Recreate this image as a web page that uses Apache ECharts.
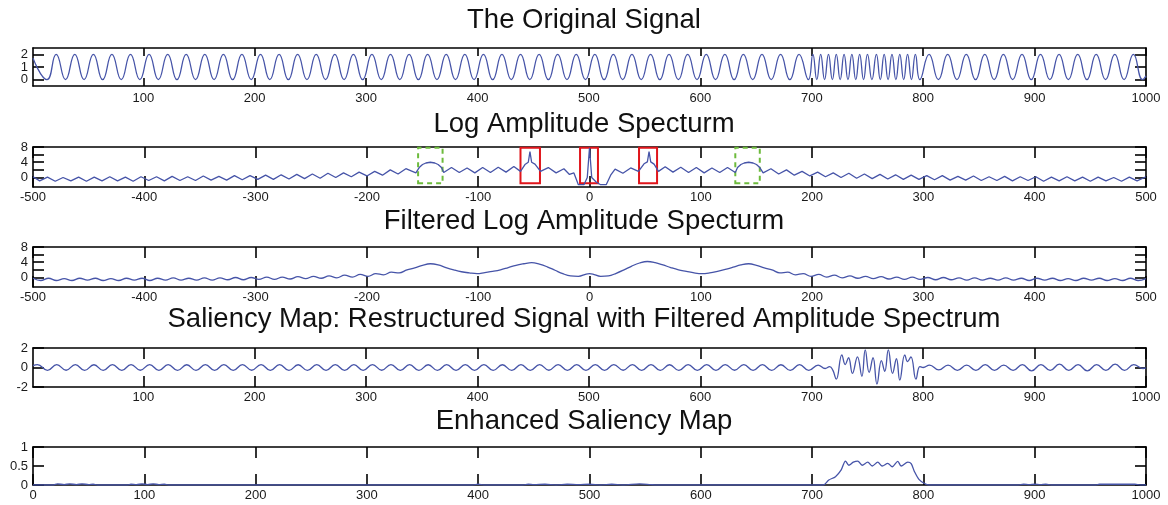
<!DOCTYPE html>
<html><head><meta charset="utf-8">
<script src="https://cdn.jsdelivr.net/npm/echarts@6/dist/echarts.min.js"></script>
<style>html,body{margin:0;padding:0;background:#fff}#c{width:1168px;height:505px}</style>
</head><body><div id="c"></div>
<script>
// ---------- titles & ticks ----------
const panelTitles = [
  'The Original Signal',
  'Log Amplitude Specturm',
  'Filtered Log Amplitude Specturm',
  'Saliency Map: Restructured Signal with Filtered Amplitude Spectrum',
  'Enhanced Saliency Map'
];
const signalTicks = [100,200,300,400,500,600,700,800,900,1000];
const spectrumTicks = [-500,-400,-300,-200,-100,0,100,200,300,400,500];
const enhancedTicks = [0,100,200,300,400,500,600,700,800,900,1000];
const signalYTicks = [0,1,2];
const spectrumYTicks = [0,2,4,6,8];
const spectrumYLabels = [0,4,8];
const saliencyYTicks = [-2,0,2];
const enhancedYTicks = [0,0.5,1];

// ---------- data ----------
const originalSignal = [
 [1,1.7],[13.5,0],[21.8,2],[30.2,0],[38.5,2],[46.8,0],[55.2,2],[63.5,0],[71.8,2],[80.2,0],[88.5,2],[96.9,0],
 [105.2,2],[113.5,0],[121.9,2],[130.2,0],[138.5,2],[146.9,0],[155.2,2],[163.5,0],[171.9,2],[180.2,0],[188.5,2],[196.9,0],
 [205.2,2],[213.5,0],[221.9,2],[230.2,0],[238.5,2],[246.9,0],[255.2,2],[263.6,0],[271.9,2],[280.2,0],[288.6,2],[296.9,0],
 [305.2,2],[313.6,0],[321.9,2],[330.2,0],[338.6,2],[346.9,0],[355.2,2],[363.6,0],[371.9,2],[380.2,0],[388.6,2],[396.9,0],
 [405.3,2],[413.6,0],[421.9,2],[430.3,0],[438.6,2],[446.9,0],[455.3,2],[463.6,0],[471.9,2],[480.3,0],[488.6,2],[496.9,0],
 [505.3,2],[513.6,0],[521.9,2],[530.3,0],[538.6,2],[546.9,0],[555.3,2],[563.6,0],[571.9,2],[580.3,0],[588.6,2],[597,0],
 [605.3,2],[613.6,0],[622,2],[630.3,0],[638.6,2],[647,0],[655.3,2],[663.6,0],[672,2],[680.3,0],[688.6,2],[697,0],
 [701,2],[704.5,0],[708,2],[711.5,0],[715,2],[718.5,0],[722,2],[725.5,0],[729,2],[732.5,0],[736,2],[739.5,0],
 [743,2],[746.5,0],[750,2],[754,0],[758,2],[761.5,0],[765,2],[768.5,0],[772,2],[775.5,0],[779,2],[782.5,0],
 [786,2],[789.5,0],[793,2],[797,0],
 [805.3,2],[813.7,0],[822,2],[830.3,0],[838.7,2],[847,0],[855.3,2],[863.7,0],[872,2],[880.3,0],[888.7,2],[897,0],
 [905.3,2],[913.7,0],[922,2],[930.3,0],[938.7,2],[947,0],[955.3,2],[963.7,0],[972,2],[980.3,0],[988.7,2],[997,0],[1000,0.3]
];

const logSpectrum = [
 [-500,0.2],[-494,-0.9],[-487,0.1],[-480,-1.0],[-473,0.0],[-466,-0.9],[-459,0.1],[-452,-1.0],[-445,0.1],[-438,-0.9],
 [-431,0.2],[-424,-0.9],[-417,0.1],[-410,-1.0],[-403,0.2],[-396,-0.8],[-389,0.2],[-382,-0.9],[-375,0.3],[-368,-0.8],
 [-361,0.2],[-354,-0.8],[-347,0.4],[-340,-0.7],[-333,0.3],[-326,-0.7],[-319,0.5],[-312,-0.6],[-305,0.5],[-298,-0.5],
 [-291,0.6],[-284,-0.5],[-277,0.7],[-270,-0.4],[-263,0.8],[-256,-0.3],[-249,0.9],[-242,-0.2],[-235,1.1],[-228,0.0],
 [-221,1.2],[-214,0.2],[-207,1.4],[-200,0.4],[-193,1.6],[-186,0.6],[-179,2.0],[-172,0.9],[-165,2.3],[-156,1.2],
 [-153,2.6],[-150,3.4],[-147,3.8],[-143,4.0],[-139,3.8],[-136,3.4],[-133,2.6],[-131,1.3],
 [-124,2.6],[-117,1.3],[-110,2.5],[-103,1.2],[-96,2.6],[-89,1.3],[-82,2.7],[-75,1.4],[-68,2.9],[-62,1.6],
 [-58,3.4],[-55,4.0],[-53.5,6.8],[-52,4.0],[-49,3.5],[-44,1.6],[-37,2.6],[-30,1.2],[-23,2.3],[-18,0.8],[-14,1.2],
 [-10,-1.9],[-5,-1.9],[-2,0.0],[0,7.8],[2,0.0],[6,-1.2],[10,-1.9],[15,-1.9],[19,0.6],
 [23,2.2],[30,1.1],[37,2.5],[44,1.6],[49,3.6],[52,4.1],[53.5,6.8],[55,4.1],[58,3.5],[62,1.6],
 [68,2.8],[75,1.4],[82,2.7],[89,1.3],[96,2.6],[103,1.2],[110,2.5],[117,1.3],[124,2.6],[131,1.3],
 [133,2.6],[136,3.4],[139,3.8],[143,4.0],[147,3.8],[150,3.4],[153,2.6],[156,1.2],
 [163,2.3],[170,0.9],[177,2.0],[184,0.6],[191,1.6],[198,0.4],[205,1.4],[212,0.2],[219,1.2],[226,0.0],
 [233,1.1],[240,-0.2],[247,0.9],[254,-0.3],[261,0.8],[268,-0.4],[275,0.7],[282,-0.5],[289,0.6],[296,-0.5],
 [303,0.5],[310,-0.6],[317,0.5],[324,-0.7],[331,0.3],[338,-0.7],[345,0.4],[352,-0.8],[359,0.2],[366,-0.8],
 [373,0.3],[380,-0.9],[387,0.2],[394,-0.8],[401,0.2],[408,-1.0],[415,0.1],[422,-0.9],[429,0.2],[436,-0.9],
 [443,0.1],[450,-1.0],[457,0.1],[464,-0.9],[471,0.0],[478,-1.0],[485,0.1],[492,-0.9],[500,0.2]
];

const filteredSpectrum = [
 [-500,-0.2],[-493,-0.8],[-486,-0.2],[-479,-0.8],[-472,-0.3],[-465,-0.8],[-458,-0.2],[-451,-0.7],[-444,-0.2],[-437,-0.8],
 [-430,-0.3],[-423,-0.8],[-416,-0.2],[-409,-0.7],[-402,-0.2],[-395,-0.8],[-388,-0.2],[-381,-0.7],[-374,-0.1],[-367,-0.7],
 [-360,-0.2],[-353,-0.7],[-346,-0.1],[-339,-0.7],[-332,-0.1],[-325,-0.6],[-318,0.0],[-311,-0.6],[-304,0.0],[-297,-0.5],
 [-290,0.1],[-283,-0.5],[-276,0.1],[-269,-0.4],[-262,0.2],[-255,-0.3],[-248,0.3],[-241,-0.2],[-234,0.4],[-227,-0.1],
 [-220,0.6],[-213,0.1],[-206,0.8],[-199,0.3],[-192,1.0],[-185,0.7],[-178,1.4],[-171,1.2],[-164,2.0],[-157,2.5],
 [-150,3.2],[-143,3.6],[-136,3.3],[-129,2.6],[-122,2.0],[-115,1.5],[-108,1.2],[-101,1.0],[-94,1.3],[-87,1.6],
 [-80,2.0],[-73,2.6],[-66,3.2],[-59,3.6],[-52,3.9],[-45,3.5],[-38,2.8],[-31,1.9],[-24,1.0],[-17,0.4],
 [-10,0.3],[-3,0.9],[0,1.0],[3,0.9],[10,0.3],[17,0.4],[24,1.1],[31,2.0],[38,3.0],[45,3.8],
 [52,4.2],[59,3.9],[66,3.3],[73,2.6],[80,2.0],[87,1.6],[94,1.2],[101,1.0],[108,1.2],[115,1.6],
 [122,2.1],[129,2.7],[136,3.3],[143,3.6],[150,3.2],[157,2.5],[164,2.0],[171,1.2],[178,1.4],[185,0.7],
 [192,1.0],[199,0.3],[206,0.8],[213,0.1],[220,0.6],[227,-0.1],[234,0.4],[241,-0.2],[248,0.3],[255,-0.3],
 [262,0.2],[269,-0.4],[276,0.1],[283,-0.5],[290,0.1],[297,-0.5],[304,0.0],[311,-0.6],[318,0.0],[325,-0.6],
 [332,-0.1],[339,-0.7],[346,-0.1],[353,-0.7],[360,-0.2],[367,-0.7],[374,-0.1],[381,-0.7],[388,-0.2],[395,-0.8],
 [402,-0.2],[409,-0.7],[416,-0.2],[423,-0.8],[430,-0.3],[437,-0.8],[444,-0.2],[451,-0.7],[458,-0.2],[465,-0.8],
 [472,-0.3],[479,-0.8],[486,-0.2],[493,-0.8],[500,-0.3]
];

const saliencyMap = [
 [1,0.2],[5,0.3],[14,-0.3],[22.3,0.3],[30.7,-0.28],[39,0.3],[47.3,-0.3],[55.7,0.28],[64,-0.3],[72.3,0.3],[80.7,-0.3],[89,0.3],
 [97.3,-0.28],[105.7,0.3],[114,-0.3],[122.3,0.3],[130.7,-0.3],[139,0.28],[147.3,-0.3],[155.7,0.3],[164,-0.3],[172.3,0.3],
 [180.7,-0.3],[189,0.3],[197.3,-0.28],[205.7,0.3],[214,-0.3],[222.3,0.3],[230.7,-0.3],[239,0.28],[247.3,-0.3],[255.7,0.3],
 [264,-0.3],[272.3,0.3],[280.7,-0.3],[289,0.3],[297.3,-0.3],[305.7,0.3],[314,-0.28],[322.3,0.3],[330.7,-0.3],[339,0.3],
 [347.3,-0.3],[355.7,0.28],[364,-0.3],[372.3,0.3],[380.7,-0.3],[389,0.3],[397.3,-0.3],[405.7,0.3],[414,-0.3],[422.3,0.28],
 [430.7,-0.3],[439,0.3],[447.3,-0.3],[455.7,0.3],[464,-0.28],[472.3,0.3],[480.7,-0.3],[489,0.3],[497.3,-0.3],[505.7,0.3],
 [514,-0.3],[522.3,0.3],[530.7,-0.28],[539,0.3],[547.3,-0.3],[555.7,0.3],[564,-0.3],[572.3,0.28],[580.7,-0.3],[589,0.3],
 [597.3,-0.3],[605.7,0.3],[614,-0.3],[622.3,0.3],[630.7,-0.28],[639,0.3],[647.3,-0.3],[655.7,0.3],[664,-0.3],[672.3,0.28],
 [680.7,-0.3],[689,0.3],[697.3,-0.3],[705.7,0.25],[712,-0.1],[716,0.1],
 [719,-0.3],[722,-1.2],[727,1.3],[730,0.3],[733,1.0],[736.5,-0.6],[741,1.1],[745,-0.9],[748,1.8],[751.5,-0.5],
 [755,1.0],[758.5,-1.7],[762.5,0.7],[765.5,-0.4],[768.7,1.8],[772.5,-0.6],[776,0.9],[779,-1.3],[783.5,1.3],[786,0.6],
 [789,1.1],[793.5,-1.2],[797,0.1],[800,0.0],
 [805.7,0.25],[814,-0.25],[822.3,0.25],[830.7,-0.3],[839,0.25],[847.3,-0.3],[855.7,0.3],[864,-0.3],[872.3,0.25],[880.7,-0.3],
 [889,0.3],[897.3,-0.35],[905.7,0.3],[914,-0.3],[922.3,0.35],[930.7,-0.3],[939,0.3],[947.3,-0.35],[955.7,0.3],[964,-0.3],
 [972.3,0.35],[980.7,-0.3],[989,0.3],[997.3,-0.1],[1000,-0.05]
];

const enhancedSaliency = [
 [0,0],[18,0],[22,0.03],[28,0.01],[33,0.03],[39,0.01],[44,0.03],[50,0.01],[54,0.02],[58,0],[85,0],[88,0.02],[93,0.01],
 [98,0.03],[103,0.01],[108,0.03],[113,0.01],[118,0.02],[122,0],[395,0],[400,0.02],[405,0],[440,0],[445,0.02],[450,0.01],
 [460,0.02],[470,0],[480,0.02],[490,0.01],[500,0.02],[510,0],[520,0.02],[530,0],[545,0.03],[555,0.01],[560,0],
 [710,0],[715,0.13],[721,0.22],[726,0.39],[730,0.63],[733,0.52],[737,0.6],[741,0.63],[745,0.52],[750,0.6],[754,0.5],
 [759,0.6],[763,0.5],[768,0.57],[772,0.48],[777,0.62],[780,0.5],[786,0.6],[789,0.56],[792,0.35],[796,0.15],[801,0.04],
 [805,0],[885,0],[890,0.02],[895,0.01],[900,0.02],[905,0.01],[910,0.02],[915,0],[955,0],[958,0.02],[990,0.02],[995,0],[1000,0]
];

// annotation boxes on the log spectrum (x ranges, then y range)
const redBoxes = [[-62,-44.5],[-8.5,7.6],[44.5,60.7]];
const greenBoxes = [[-154,-132],[131,153]];
const boxYRange = [-1.5,7.8];

// ---------- layout ----------
const FONT = 'Liberation Sans';
const LEFT = 33, WIDTH = 1113;
const panels = [
  {top:48, height:38, titleTop:6, xMin:1, xMax:1000, xTicks:signalTicks, xTickLen:8, xMargin:6,
   yMin:-0.5, yMax:2.5, yTicks:signalYTicks, yLabels:signalYTicks, data:originalSignal, smooth:0.5},
  {top:147, height:40, titleTop:110, xMin:-500, xMax:500, xTicks:spectrumTicks, xTickLen:11, xMargin:4,
   yMin:-2.5, yMax:8, yTicks:spectrumYTicks, yLabels:spectrumYLabels, data:logSpectrum, smooth:false},
  {top:247, height:40, titleTop:207, xMin:-500, xMax:500, xTicks:spectrumTicks, xTickLen:11, xMargin:4,
   yMin:-2.5, yMax:8, yTicks:spectrumYTicks, yLabels:spectrumYLabels, data:filteredSpectrum, smooth:0.4},
  {top:348, height:39, titleTop:305, xMin:1, xMax:1000, xTicks:signalTicks, xTickLen:11, xMargin:4,
   yMin:-2, yMax:2, yTicks:saliencyYTicks, yLabels:saliencyYTicks, data:saliencyMap, smooth:0.45},
  {top:447, height:38, titleTop:407, xMin:0, xMax:1000, xTicks:enhancedTicks, xTickLen:11, xMargin:4,
   yMin:0, yMax:1, yTicks:enhancedYTicks, yLabels:enhancedYTicks, data:enhancedSaliency, smooth:0.3}
];

const axisLineStyle = {color:'#000', width:1.6};
const labelStyle = {fontSize:13, color:'#1a1a1a', fontFamily:FONT, hideOverlap:false, formatter:v => String(v)};

const grid = [], xAxis = [], yAxis = [], series = [], title = [];
panels.forEach((p, i) => {
  grid.push({left:LEFT, width:WIDTH, top:p.top, height:p.height});
  title.push({text:panelTitles[i], left:'center', top:p.titleTop, padding:0,
    textStyle:{fontSize:27.5, fontWeight:'normal', color:'#111', fontFamily:FONT}});
  const xIdx = xAxis.length;
  ['bottom','top'].forEach(pos => {
    xAxis.push({type:'value', gridIndex:i, position:pos, min:p.xMin, max:p.xMax,
      axisLine:{show:true, onZero:false, lineStyle:axisLineStyle},
      axisTick:{show:true, inside:true, length:p.xTickLen, customValues:p.xTicks, lineStyle:{color:'#000', width:1.6}},
      axisLabel:Object.assign({show:pos==='bottom', customValues:p.xTicks, margin:p.xMargin}, labelStyle),
      splitLine:{show:false}});
  });
  const yIdx = yAxis.length;
  // labels split over two left axes (alternating), so close labels are never dropped as overlapping
  const labA = p.yLabels.filter((v, k) => k % 2 === 0);
  const labB = p.yLabels.filter((v, k) => k % 2 === 1);
  ['left','right'].forEach(pos => {
    yAxis.push({type:'value', gridIndex:i, position:pos, min:p.yMin, max:p.yMax,
      axisLine:{show:true, onZero:false, lineStyle:axisLineStyle},
      axisTick:{show:true, inside:true, length:11, customValues:p.yTicks, lineStyle:{color:'#000', width:1.6}},
      axisLabel:Object.assign({show:pos==='left', customValues:labA, margin:5}, labelStyle),
      splitLine:{show:false}});
  });
  if (labB.length) {
    yAxis.push({type:'value', gridIndex:i, position:'left', offset:0, min:p.yMin, max:p.yMax,
      axisLine:{show:false}, axisTick:{show:false},
      axisLabel:Object.assign({show:true, customValues:labB, margin:5}, labelStyle),
      splitLine:{show:false}});
  }
  const s = {type:'line', xAxisIndex:xIdx, yAxisIndex:yIdx, data:p.data, showSymbol:false, symbol:'none',
    smooth:p.smooth, clip:true, lineStyle:{color:'#4654a8', width:1.3}, silent:true, animation:false};
  if (i === 1) {
    s.markArea = {silent:true, data:[
      ...redBoxes.map(b => [
        {xAxis:b[0], yAxis:boxYRange[0], itemStyle:{color:'rgba(0,0,0,0)', borderColor:'#e0151b', borderWidth:2}},
        {xAxis:b[1], yAxis:boxYRange[1]}]),
      ...greenBoxes.map(b => [
        {xAxis:b[0], yAxis:boxYRange[0], itemStyle:{color:'rgba(0,0,0,0)', borderColor:'#6dbb3c', borderWidth:2, borderType:[5,4]}},
        {xAxis:b[1], yAxis:boxYRange[1]}])
    ]};
  }
  series.push(s);
});

const chart = echarts.init(document.getElementById('c'), null, {renderer:'canvas'});
chart.setOption({animation:false, backgroundColor:'#fff', title, grid, xAxis, yAxis, series});
</script>
</body></html>
